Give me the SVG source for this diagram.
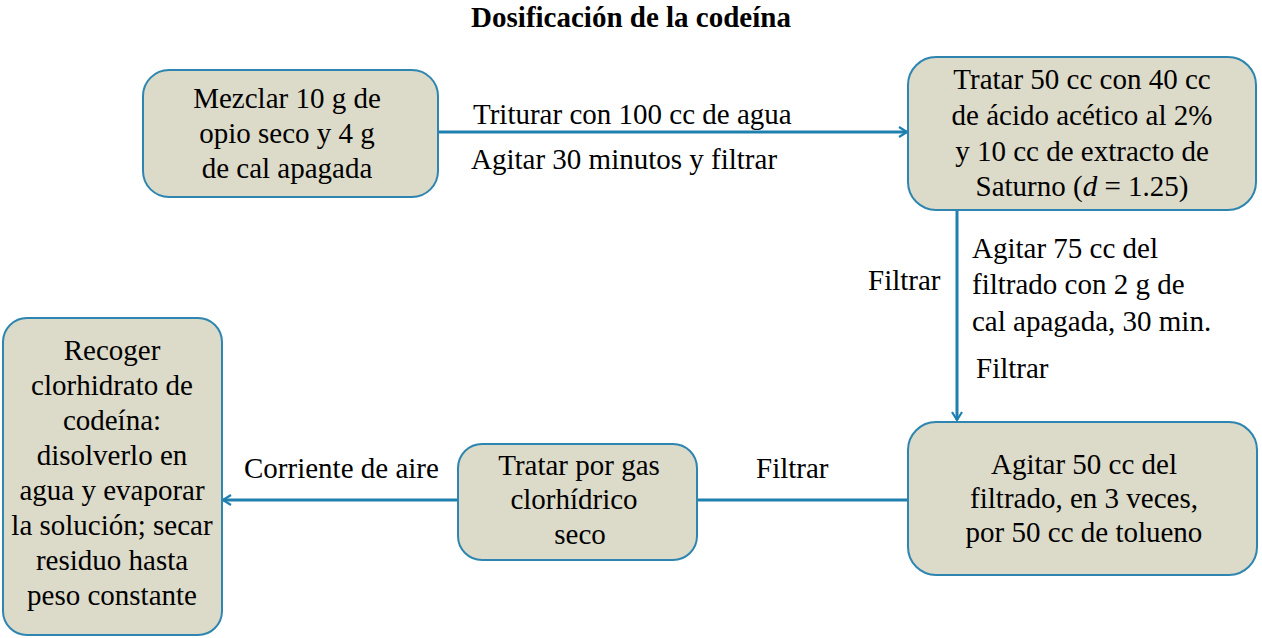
<svg xmlns="http://www.w3.org/2000/svg" width="1262" height="638" viewBox="0 0 1262 638">
<style>
.box{fill:#DCDAC8;stroke:#2E86B0;stroke-width:2}
.t{font-family:"Liberation Serif","Times New Roman",serif;font-size:29px;fill:#000}
.c{text-anchor:middle}
.conn{stroke:#1F80B0;stroke-width:3;fill:none}
</style>
<defs>
<marker id="arr" viewBox="0 0 12 12" refX="11" refY="6" markerWidth="12" markerHeight="12" markerUnits="userSpaceOnUse" orient="auto">
<polyline points="3,1 11,6 3,11" fill="none" stroke="#1F80B0" stroke-width="2.2"/>
</marker>
</defs>
<rect width="1262" height="638" fill="#fff"/>
<text class="t c" x="631" y="27" font-weight="bold" font-size="26">Dosificación de la codeína</text>
<g id="connectors">
<line class="conn" x1="438" y1="132" x2="907" y2="132" marker-end="url(#arr)"/>
<line class="conn" x1="957" y1="210" x2="957" y2="420" marker-end="url(#arr)"/>
<line class="conn" x1="908" y1="500" x2="697" y2="500"/>
<line class="conn" x1="458" y1="500" x2="223" y2="500" marker-end="url(#arr)"/>
<text class="t" x="473" y="124">Triturar con 100 cc de agua</text>
<text class="t" x="471" y="169">Agitar 30 minutos y filtrar</text>
<text class="t" x="868" y="290">Filtrar</text>
<text class="t" x="972" y="258">Agitar 75 cc del</text>
<text class="t" x="972" y="294">filtrado con 2 g de</text>
<text class="t" x="972" y="331">cal apagada, 30 min.</text>
<text class="t" x="976" y="378">Filtrar</text>
<text class="t" x="756" y="478">Filtrar</text>
<text class="t" x="244" y="478">Corriente de aire</text>
</g>
<g id="n1">
<rect class="box" x="143" y="70" width="295" height="127" rx="26"/>
<text class="t c" x="287" y="108">Mezclar 10 g de</text>
<text class="t c" x="287" y="143">opio seco y 4 g</text>
<text class="t c" x="287" y="178">de cal apagada</text>
</g>
<g id="n2">
<rect class="box" x="908" y="57" width="348" height="153" rx="28"/>
<text class="t c" x="1082" y="89">Tratar 50 cc con 40 cc</text>
<text class="t c" x="1082" y="125">de ácido acético al 2%</text>
<text class="t c" x="1082" y="161">y 10 cc de extracto de</text>
<text class="t c" x="1082" y="196">Saturno (<tspan font-style="italic">d</tspan> = 1.25)</text>
</g>
<g id="n3">
<rect class="box" x="908" y="422" width="349" height="153" rx="28"/>
<text class="t c" x="1084" y="474">Agitar 50 cc del</text>
<text class="t c" x="1084" y="508">filtrado, en 3 veces,</text>
<text class="t c" x="1084" y="542">por 50 cc de tolueno</text>
</g>
<g id="n4">
<rect class="box" x="458" y="444" width="239" height="116" rx="24"/>
<text class="t c" x="579" y="475">Tratar por gas</text>
<text class="t c" x="574" y="509">clorhídrico</text>
<text class="t c" x="580" y="544">seco</text>
</g>
<g id="n5">
<rect class="box" x="3" y="318" width="219" height="317" rx="24"/>
<text class="t c" x="112" y="360">Recoger</text>
<text class="t c" x="112" y="395">clorhidrato de</text>
<text class="t c" x="112" y="430">codeína:</text>
<text class="t c" x="112" y="465">disolverlo en</text>
<text class="t c" x="112" y="500">agua y evaporar</text>
<text class="t c" x="112" y="535">la solución; secar</text>
<text class="t c" x="112" y="570">residuo hasta</text>
<text class="t c" x="112" y="605">peso constante</text>
</g>
</svg>
